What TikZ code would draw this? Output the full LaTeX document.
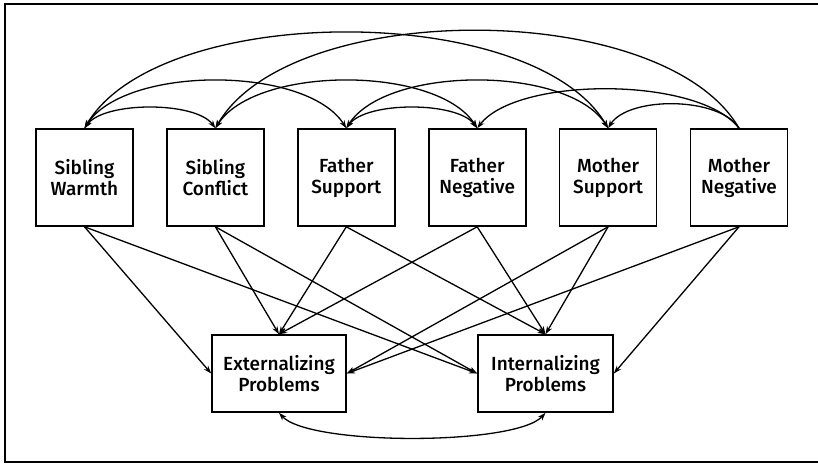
\documentclass[tikz,border=0pt]{standalone}
\usepackage{fontspec}
\setmainfont{Fira Sans}[UprightFont=* Medium]
\usetikzlibrary{arrows.meta}
\begin{document}
\begin{tikzpicture}[x=1pt,y=-1pt,
  lbl/.style={draw,line width=1.6pt,align=center,inner sep=0pt,
    font=\fontsize{19}{21}\selectfont},
  topbox/.style={lbl,minimum width=97pt,minimum height=97pt},
  botbox/.style={lbl,minimum width=134pt,minimum height=77pt},
  arr/.style={line width=1.3pt,-{Stealth[length=8pt,width=5.5pt]}},
  dbl/.style={line width=1.3pt,{Stealth[length=8pt,width=5.5pt]}-{Stealth[length=8pt,width=5.5pt]}}]
\useasboundingbox (0,0) rectangle (818,464);
\fill[white] (0,0) rectangle (818,464);
\draw[line width=1.8pt] (818,4) -- (5,4) -- (5,462) -- (818,462);
% top boxes
\node[topbox] (sw) at (84.5,177.5) {Sibling\\Warmth};
\node[topbox] (sc) at (215.4,177.5) {Sibling\\Conflict};
\node[topbox] (fs) at (346.3,177.5) {Father\\Support};
\node[topbox] (fn) at (477.2,177.5) {Father\\Negative};
\node[topbox] (ms) at (608.1,177.5) {Mother\\Support};
\node[topbox] (mn) at (739,177.5) {Mother\\Negative};
% bottom boxes
\node[botbox] (ex) at (279,373.5) {Externalizing\\Problems};
\node[botbox,minimum width=135pt] (in) at (545.5,373.5) {Internalizing\\Problems};
% correlations among predictors
\draw[dbl] (sw.north) .. controls +(20,-27) and +(-20,-27) .. (sc.north);
\draw[dbl] (fs.north) .. controls +(20,-27) and +(-20,-27) .. (fn.north);
\draw[arr] (mn.north) .. controls +(-20,-32) and +(20,-32) .. (ms.north);
\draw[dbl] (sw.north) .. controls +(40,-63) and +(-40,-63) .. (fs.north);
\draw[dbl] (fs.north) .. controls +(40,-63) and +(-40,-63) .. (ms.north);
\draw[dbl] (sc.north) .. controls +(40,-63) and +(-40,-63) .. (fn.north);
\draw[arr] (mn.north) .. controls +(-40,-52) and +(40,-52) .. (fn.north);
\draw[dbl] (sw.north) .. controls +(75,-127) and +(-75,-127) .. (ms.north);
\draw[arr] (mn.north) .. controls +(-75,-130) and +(75,-130) .. (sc.north);
% paths to outcomes
\draw[arr] (sw.south) -- (ex.west);
\draw[arr] (sw.south) -- (in.west);
\draw[arr] (sc.south) -- (ex.north);
\draw[arr] (sc.south) -- (in.west);
\draw[arr] (fs.south) -- (ex.north);
\draw[arr] (fs.south) -- (in.north);
\draw[arr] (fn.south) -- (ex.north);
\draw[arr] (fn.south) -- (in.north);
\draw[arr] (ms.south) -- (ex.east);
\draw[arr] (ms.south) -- (in.north);
\draw[arr] (mn.south) -- (ex.east);
\draw[arr] (mn.south) -- (in.east);
% outcome correlation
\draw[dbl] (ex.south) .. controls +(30,33) and +(-30,33) .. (in.south);
\end{tikzpicture}
\end{document}
